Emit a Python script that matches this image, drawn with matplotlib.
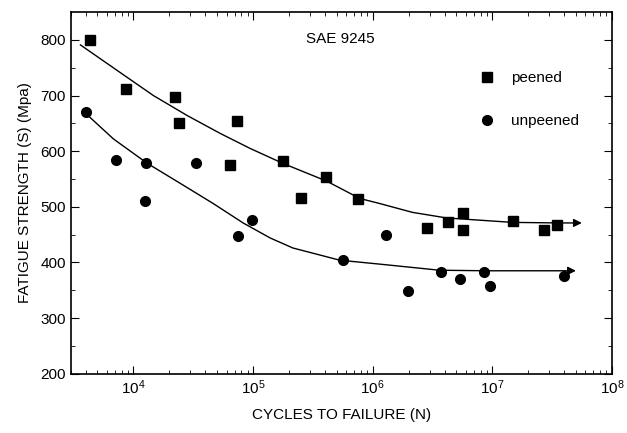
import matplotlib.pyplot as plt
import numpy as np

plt.rcParams['font.family'] = ['Liberation Sans', 'DejaVu Sans']
plt.rcParams['mathtext.fontset'] = 'custom'
plt.rcParams['mathtext.rm'] = 'Liberation Sans'
plt.rcParams['mathtext.it'] = 'Liberation Sans'

# peened data (cycles, MPa)
peened_n = [4300, 8700, 22400, 24200, 73600, 64300, 178000, 251000, 405000, 750000,
            2.87e6, 4.3e6, 5.7e6, 5.7e6, 1.5e7, 2.7e7, 3.5e7]
peened_s = [800, 712, 698, 650, 655, 575, 582, 515, 553, 514,
            462, 472, 488, 458, 474, 458, 467]

# unpeened data
unpeened_n = [4000, 7200, 12800, 12600, 33500, 75000, 98000, 562000, 1.28e6, 1.96e6,
              3.7e6, 5.4e6, 8.6e6, 9.6e6, 4.0e7]
unpeened_s = [670, 585, 578, 510, 578, 447, 476, 404, 449, 349,
              383, 370, 383, 358, 376]

# fitted curves
fit_p_n = [3610, 7800, 14700, 28200, 53100, 94400, 178000, 414000, 780000,
           1.14e6, 2.15e6, 4.14e6, 1.47e7, 3.61e7, 5.6e7]
fit_p_s = [791, 741, 700, 664, 632, 605, 578, 546, 515,
           506, 490, 480, 472, 471, 471]
fit_u_n = [3760, 6810, 13100, 24700, 46400, 82600, 139000, 215000, 531000,
           1.14e6, 3.61e6, 8.9e6, 5.0e7]
fit_u_s = [673, 622, 578, 542, 506, 471, 444, 426, 404,
           397, 386, 385, 385]

fig = plt.figure(figsize=(6.27, 4.33), dpi=100)
ax = fig.add_axes([0.113, 0.137, 0.863, 0.835])

for xs, ys in [(fit_p_n, fit_p_s), (fit_u_n, fit_u_s)]:
    ax.plot(xs[:-1], ys[:-1], color='black', lw=1)
    ax.annotate('', xy=(xs[-1], ys[-1]), xytext=(xs[-2], ys[-2]),
                arrowprops=dict(arrowstyle='-|>', color='black', lw=1,
                                mutation_scale=12, shrinkA=0, shrinkB=0))

ax.plot(peened_n, peened_s, 's', color='black', ms=7, label='peened')
ax.plot(unpeened_n, unpeened_s, 'o', color='black', ms=7, label='unpeened')

ax.set_xscale('log')
ax.set_xlim(3e3, 1e8)
ax.set_ylim(200, 850)
ax.set_yticks([200, 300, 400, 500, 600, 700, 800])
ax.set_yticks(np.arange(250, 850, 100), minor=True)
ax.set_xticks([1e4, 1e5, 1e6, 1e7, 1e8])
ax.set_xticklabels(['$10^4$', '$10^5$', '$10^6$', '$10^7$', '$10^8$'])
ax.tick_params(which='both', direction='in', top=True, right=True, labelsize=11)
ax.tick_params(which='major', length=6)
ax.tick_params(which='minor', length=3)

ax.set_xlabel('CYCLES TO FAILURE (N)', fontsize=11, labelpad=8)
ax.set_ylabel('FATIGUE STRENGTH (S) (Mpa)', fontsize=11, labelpad=6)

ax.text(0.435, 0.945, 'SAE 9245', transform=ax.transAxes, fontsize=11,
        va='top')
ax.legend(loc='upper right', bbox_to_anchor=(0.965, 0.875), frameon=False,
          fontsize=11, handletextpad=0.6, labelspacing=1.9)

for sp in ax.spines.values():
    sp.set_linewidth(1.2)

fig.savefig('out.png', dpi=100)
